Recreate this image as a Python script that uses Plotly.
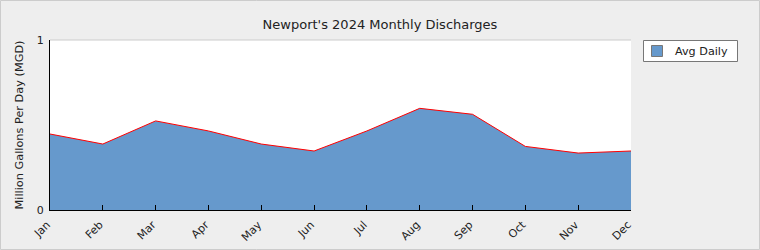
import plotly.graph_objects as go

months = ["Jan", "Feb", "Mar", "Apr", "May", "Jun", "Jul", "Aug", "Sep", "Oct", "Nov", "Dec"]
avg_daily = [0.447, 0.388, 0.524, 0.465, 0.388, 0.347, 0.465, 0.598, 0.563, 0.374, 0.335, 0.347]
y_ticks = [0, 1]
series_name = "Avg Daily"

FONT = "DejaVu Sans"
W, H = 760, 250
L, R, T, B = 50, 129, 40, 40
PW, PH = W - L - R, H - T - B


def px(x):
    return (x - L) / PW


def py(y):
    return 1 - (y - T) / PH


fig = go.Figure()
fig.add_trace(go.Scatter(
    x=months, y=avg_daily, mode="lines", fill="tozeroy", name=series_name,
    fillcolor="#6699cc", line=dict(color="#ff0000", width=1),
    showlegend=False, hoverinfo="x+y",
))

fig.update_layout(
    width=W, height=H,
    margin=dict(l=L, r=R, t=T, b=B),
    paper_bgcolor="#eeeeee", plot_bgcolor="#ffffff",
    font=dict(family=FONT, size=11, color="#222222"),
    title=dict(text="Newport's 2024 Monthly Discharges", x=0.5, xref="container", xanchor="center",
               y=1 - 24 / H, yref="container", yanchor="middle",
               font=dict(family=FONT, size=13, color="#222222")),
    xaxis=dict(type="category", range=[0, 11], showgrid=False, showline=True, linecolor="#000000",
               linewidth=1, ticks="inside", ticklen=5, tickcolor="#000000", tickangle=-45,
               ticklabelstandoff=3, ticklabelshift=-3, automargin=False, zeroline=False,
               fixedrange=True),
    yaxis=dict(range=[0, 1], tickvals=y_ticks, ticktext=[str(v) for v in y_ticks], showgrid=False,
               showline=True, linecolor="#000000", linewidth=1, ticks="inside", ticklen=5,
               tickcolor="#000000", zeroline=False, automargin=False, ticklabelstandoff=3,
               title=dict(text="Million Gallons Per Day (MGD)", font=dict(size=11.3, color="#222222"),
                          standoff=10)),
    showlegend=False,
)
# plot-area top border
fig.add_shape(type="line", xref="paper", yref="paper", x0=0, x1=1, y0=1, y1=1,
              line=dict(color="#cccccc", width=1))
# outer frame
fig.add_shape(type="rect", xref="paper", yref="paper",
              x0=px(0.5), x1=px(W - 0.5), y0=py(H - 0.5), y1=py(0.5),
              line=dict(color="#cccccc", width=1), layer="below")
# legend box
fig.add_shape(type="rect", xref="paper", yref="paper",
              x0=px(643.5), x1=px(737.5), y0=py(61.5), y1=py(40.5),
              fillcolor="#ffffff", line=dict(color="#777777", width=1))
fig.add_shape(type="rect", xref="paper", yref="paper",
              x0=px(651.5), x1=px(662.5), y0=py(56.5), y1=py(45.5),
              fillcolor="#6699cc", line=dict(color="#777777", width=1))
fig.add_annotation(text=series_name, xref="paper", yref="paper", x=px(673), y=py(51),
                   xanchor="left", yanchor="middle", showarrow=False,
                   font=dict(family=FONT, size=11.2, color="#222222"))

fig.write_html("out.html")
